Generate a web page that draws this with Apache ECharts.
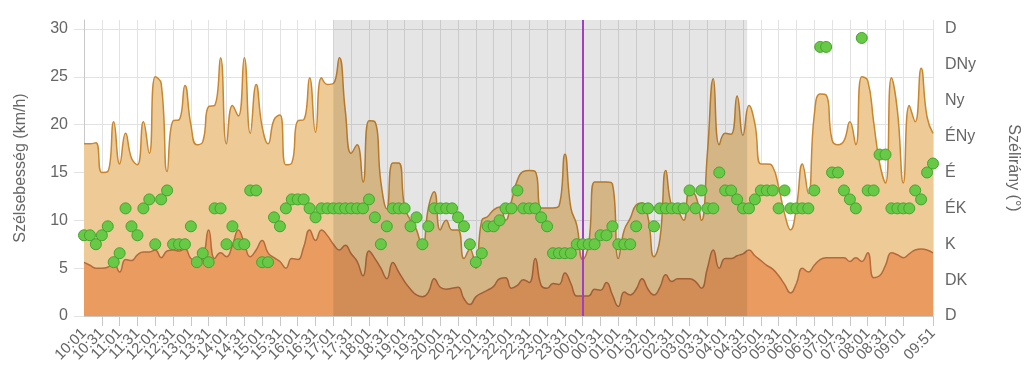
<!DOCTYPE html>
<html>
<head>
<meta charset="utf-8">
<script src="https://cdn.jsdelivr.net/npm/echarts@6/dist/echarts.min.js"></script>
<style>
html,body{margin:0;padding:0;background:#fff;}
#chart{width:1024px;height:384px;}
</style>
</head>
<body>
<div id="chart"></div>
<script>
var times = [
"10:01","10:11","10:21","10:31","10:41","10:51",
"11:01","11:11","11:21","11:31","11:41","11:51",
"12:01","12:11","12:21","12:31","12:41","12:51",
"13:01","13:11","13:21","13:31","13:41","13:51",
"14:01","14:11","14:21","14:31","14:41","14:51",
"15:01","15:11","15:21","15:31","15:41","15:51",
"16:01","16:11","16:21","16:31","16:41","16:51",
"17:01","17:11","17:21","17:31","17:41","17:51",
"18:01","18:11","18:21","18:31","18:41","18:51",
"19:01","19:11","19:21","19:31","19:41","19:51",
"20:01","20:11","20:21","20:31","20:41","20:51",
"21:01","21:11","21:21","21:31","21:41","21:51",
"22:01","22:11","22:21","22:31","22:41","22:51",
"23:01","23:11","23:21","23:31","23:41","23:51",
"00:01","00:11","00:21","00:31","00:41","00:51",
"01:01","01:11","01:21","01:31","01:41","01:51",
"02:01","02:11","02:21","02:31","02:41","02:51",
"03:01","03:11","03:21","03:31","03:41","03:51",
"04:01","04:11","04:21","04:31","04:41","04:51",
"05:01","05:11","05:21","05:31","05:41","05:51",
"06:01","06:11","06:21","06:31","06:41","06:51",
"07:01","07:11","07:21","07:31","07:41","07:51",
"08:01","08:11","08:21","08:31","08:41","08:51",
"09:01","09:11","09:21","09:31","09:41","09:51"
];

// max wind (gust), km/h
var gust = [
18.0,18.0,18.1,15.0,15.1,20.3,15.9,19.1,16.5,15.8,
20.3,17.0,25.0,24.3,15.1,20.4,20.5,24.1,20.0,17.9,
18.2,21.9,22.0,27.0,18.0,22.0,20.9,27.0,19.1,24.2,
19.8,18.0,20.5,21.0,15.8,16.0,20.4,20.5,24.9,19.2,
24.9,24.2,24.3,27.0,21.5,17.0,17.9,14.0,20.4,20.3,
14.0,11.2,16.0,16.0,11.4,10.0,9.0,7.0,11.3,13.0,
9.0,10.0,9.0,9.0,6.0,7.0,5.0,10.0,10.4,11.1,
11.4,10.0,12.0,14.2,15.1,15.2,15.1,11.3,11.3,11.3,
11.5,16.9,11.3,9.5,5.9,7.5,14.0,14.0,14.0,13.8,
6.0,9.0,10.2,11.6,11.8,10.3,6.2,8.0,15.2,11.4,
11.0,10.0,13.0,12.6,10.0,17.0,24.8,17.9,19.1,19.0,
23.0,18.9,22.0,20.1,15.9,15.9,15.6,13.5,10.7,9.0,
11.4,15.9,12.8,21.0,23.2,23.1,18.4,17.9,18.3,20.3,
17.9,25.0,24.6,20.3,16.0,13.9,24.9,21.5,13.9,22.0,
20.3,25.9,20.8,19.1
];

// average wind, km/h
var avg = [
5.6,5.3,5.0,5.0,5.1,5.6,4.6,5.9,5.8,6.4,
6.7,6.7,6.9,6.1,6.8,6.9,6.8,7.0,6.0,5.7,
6.0,9.0,6.0,6.6,6.2,7.4,9.0,7.6,6.2,6.9,
7.9,6.6,6.1,5.7,5.0,6.0,5.9,7.2,9.0,7.9,
9.0,8.4,7.5,6.9,7.4,6.5,5.7,4.2,6.8,6.0,
5.0,3.9,5.6,4.6,3.6,2.8,2.2,2.0,2.5,3.9,
3.0,2.8,2.9,3.0,1.8,1.2,2.0,2.4,2.7,3.1,
3.9,4.0,2.9,3.2,3.8,3.5,6.0,3.2,2.9,3.4,
3.3,4.5,3.4,2.1,2.1,2.1,2.8,2.7,3.5,2.2,
1.0,2.5,2.2,2.8,3.9,2.8,2.2,3.0,4.3,3.6,
3.9,3.9,3.9,3.6,2.9,5.0,6.9,5.0,6.0,6.0,
6.3,6.5,6.9,6.3,5.8,5.3,4.9,4.2,3.3,2.4,
3.4,5.0,4.6,5.3,5.9,6.1,6.1,6.1,6.1,5.7,
6.1,5.7,6.6,4.0,4.2,5.3,6.6,6.4,6.1,6.5,
6.9,7.0,6.9,6.6
];

// wind direction, degrees on the right axis (0..360)
var dir = [
101.25,101.25,90,101.25,112.5,67.5,78.75,135,112.5,101.25,
135,146.25,90,146.25,157.5,90,90,90,112.5,67.5,
78.75,67.5,135,135,90,112.5,90,90,157.5,157.5,
67.5,67.5,123.75,112.5,135,146.25,146.25,146.25,135,123.75,
135,135,135,135,135,135,135,135,146.25,123.75,
90,112.5,135,135,135,112.5,123.75,90,112.5,135,
135,135,135,123.75,112.5,90,67.5,78.75,112.5,112.5,
120,135,135,157.5,135,135,135,123.75,112.5,78.75,
78.75,78.75,78.75,90,90,90,90,101.25,101.25,112.5,
90,90,90,112.5,135,135,112.5,135,135,135,
135,135,157.5,135,157.5,135,135,180,157.5,157.5,
146.25,135,135,146.25,157.5,157.5,157.5,135,157.5,135,
135,135,135,157.5,337.5,337.5,180,180,157.5,146.25,
135,348.75,157.5,157.5,202.5,202.5,135,135,135,135,
157.5,146.25,180,191.25
];

var dirLabels = ["D","DK","K","ÉK","É","ÉNy","Ny","DNy","D"];
var nightBand = [42.0, 111.7];   // category index range of the shaded night band
var midnightIdx = 84;            // purple line
var speedTop = 30.94;            // plot top (last labelled tick is 30)
var dirTop = speedTop * 12;      // right axis scaled to the same height (360 at 30)

function showTick(idx) {
  if (idx === times.length - 1) return true;
  if (idx === times.length - 3) return false;
  return idx % 3 === 0;
}

var FONT = "Liberation Sans, Arial, Helvetica, sans-serif";
var xLabelStyle = {rotate: 45, fontSize: 15, color: '#666', margin: 15, fontFamily: FONT};
var chart = echarts.init(document.getElementById('chart'), null, {renderer: 'canvas'});

chart.setOption({
  animation: false,
  backgroundColor: '#ffffff',
  textStyle: {fontFamily: FONT},
  grid: {left: 84, right: 91, top: 20, bottom: 68, containLabel: false, outerBoundsMode: 'none'},
  xAxis: [{
    type: 'category',
    data: times,
    boundaryGap: false,
    axisLine: {show: true, lineStyle: {color: '#c8c8c8', width: 1}},
    axisTick: {show: true, interval: showTick, length: 10, lineStyle: {color: '#c8c8c8'}},
    axisLabel: Object.assign({interval: showTick, showMinLabel: false, showMaxLabel: true}, xLabelStyle),
    splitLine: {show: true, interval: showTick, lineStyle: {color: '#e2e2e2', width: 1}}
  }, {
    type: 'value', min: 0, max: times.length - 1, show: false
  }, {
    type: 'category', data: times, boundaryGap: false, position: 'bottom',
    axisLine: {show: false}, axisTick: {show: false}, splitLine: {show: false},
    axisLabel: Object.assign({interval: function (idx) { return idx === 0; }, showMinLabel: true, showMaxLabel: false}, xLabelStyle)
  }],
  yAxis: [{
    type: 'value', min: 0, max: speedTop, interval: 5,
    name: 'Szélsebesség (km/h)', nameLocation: 'middle', nameGap: 55,
    nameTextStyle: {color: '#666', fontSize: 16, fontFamily: FONT},
    axisLine: {show: true, lineStyle: {color: '#c8c8c8'}},
    axisTick: {show: true, length: 10, lineStyle: {color: '#e2e2e2'}},
    axisLabel: {color: '#666', fontSize: 16, margin: 16, fontFamily: FONT, showMaxLabel: false,
      formatter: function (v) { return (v % 5 === 0) ? String(v) : ''; }},
    splitLine: {show: true, showMaxLine: false, lineStyle: {color: '#e2e2e2', width: 1}}
  }, {
    type: 'value', min: 0, max: dirTop, interval: 45, position: 'right',
    name: 'Szélirány (°)', nameLocation: 'middle', nameGap: 72, nameRotate: -90,
    nameTextStyle: {color: '#666', fontSize: 16, fontFamily: FONT},
    axisLine: {show: false}, axisTick: {show: false},
    axisLabel: {color: '#666', fontSize: 16, margin: 12, fontFamily: FONT, showMaxLabel: false,
      formatter: function (v) { return (v % 45 === 0) ? dirLabels[Math.round(v / 45)] : ''; }},
    splitLine: {show: false}
  }],
  series: [{
    name: 'Széllökés', type: 'line', data: gust, smooth: 0.5, symbol: 'none', z: 2,
    lineStyle: {color: '#c8862f', width: 1.5},
    areaStyle: {color: '#edca96', opacity: 1}
  }, {
    name: 'Átlag', type: 'line', data: avg, smooth: 0.5, symbol: 'none', z: 2,
    lineStyle: {color: '#b56a3c', width: 1.5},
    areaStyle: {color: '#ea9c60', opacity: 1}
  }, {
    name: 'band', type: 'line', xAxisIndex: 1, yAxisIndex: 0, data: [], z: 3, silent: true,
    markArea: {silent: true, z: 3, itemStyle: {color: 'rgba(0,0,0,0.1)'},
      data: [[{xAxis: nightBand[0]}, {xAxis: nightBand[1]}]]},
    markLine: {silent: true, z: 4, symbol: ['none', 'none'], label: {show: false},
      lineStyle: {color: '#a23ec4', width: 2, type: 'solid'},
      data: [{xAxis: midnightIdx}]}
  }, {
    name: 'Szélirány', type: 'scatter', yAxisIndex: 1, data: dir, symbolSize: 11, z: 5,
    itemStyle: {color: '#68c946', borderColor: '#45a32e', borderWidth: 1, opacity: 1}
  }]
});
</script>
</body>
</html>
